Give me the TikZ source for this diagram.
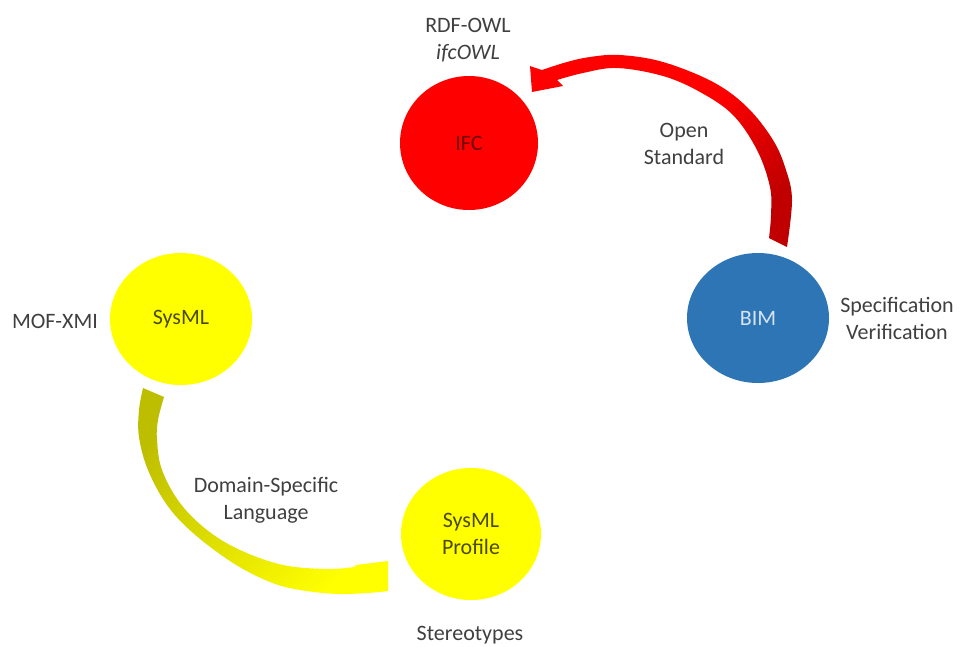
\documentclass[tikz,border=0pt]{standalone}
\usepackage{fontspec}
\setmainfont{Carlito}
\usetikzlibrary{shapes.geometric}

\definecolor{labelgray}{HTML}{404040}
\definecolor{ifcred}{HTML}{FF0000}
\definecolor{ifctext}{HTML}{6E0000}
\definecolor{bimblue}{HTML}{2E75B6}
\definecolor{bimtext}{HTML}{D6E4F2}
\definecolor{sysyellow}{HTML}{FFFF00}
\definecolor{systext}{HTML}{4A4A00}
\definecolor{arrowredlight}{HTML}{FF0000}
\definecolor{arrowreddark}{HTML}{C00000}
\definecolor{arrowolive}{HTML}{BEBE00}
\definecolor{arrowyellow}{HTML}{FFFF00}

\begin{document}
\begin{tikzpicture}[x=1pt, y=-1pt,
  every node/.style={font=\fontsize{22}{27}\selectfont, align=center, inner sep=0pt},
  blob/.style={ellipse, minimum width=141pt, minimum height=133pt},
  tag/.style={text=labelgray}]

\useasboundingbox (0,0) rectangle (961,646);
\fill[white] (0,0) rectangle (961,646);

% curved red arrow: BIM -> IFC
\shade[top color=arrowredlight, bottom color=arrowreddark, middle color=arrowredlight, shading angle=45]
  plot[smooth, tension=0.6] coordinates {(787,247) (792,200) (786,170) (773,140) (747,107) (713,82) (663,62) (620,55) (590,57) (567,62) (542,70)}
  -- (530,66) -- (532,92) -- (563,86) -- (557,80)
  -- plot[smooth, tension=0.6] coordinates {(557,80) (583,73) (617,68) (663,76) (700,92) (733,115) (757,150) (770,187) (771,215) (769,238)}
  -- cycle;

% curved yellow arrow: SysML -> SysML Profile
\shade[top color=arrowolive, bottom color=arrowyellow, shading angle=45]
  (143,388) -- (164,397)
  -- plot[smooth, tension=0.6] coordinates {(164,397) (158,420) (157,440) (162,470) (180,503) (207,530) (240,550) (283,565) (327,569) (354,567)}
  -- (356,565) -- (388,561) -- (388,591) -- (380,592)
  -- plot[smooth, tension=0.6] coordinates {(380,592) (340,594) (300,590) (270,582) (233,563) (193,533) (167,505) (148,470) (139,437) (139,410) (143,388)}
  -- cycle;

% the four model nodes
\node[blob, fill=ifcred, text=ifctext, minimum width=138pt, minimum height=134pt] (ifc) at (469,143) {IFC};
\node[blob, fill=bimblue, text=bimtext, minimum width=142pt, minimum height=130pt] (bim) at (758,318) {BIM};
\node[blob, fill=sysyellow, text=systext, minimum width=142pt, minimum height=132pt] (sysml) at (181,319) {SysML};
\node[blob, fill=sysyellow, text=systext, minimum width=140pt, minimum height=132pt] (profile) at (471,534) {SysML\\Profile};

% annotations
\node[tag] (rdf) at (468,40) {RDF-OWL\\\textit{ifcOWL}};
\node[tag] (open) at (684,144) {Open\\Standard};
\node[tag] (spec) at (897,318) {Specification\\Verification};
\node[tag] (mof) at (55,321) {MOF-XMI};
\node[tag] (dsl) at (266,500) {Domain-Specific\\Language};
\node[tag] (stereo) at (470,635) {Stereotypes};

\end{tikzpicture}
\end{document}
